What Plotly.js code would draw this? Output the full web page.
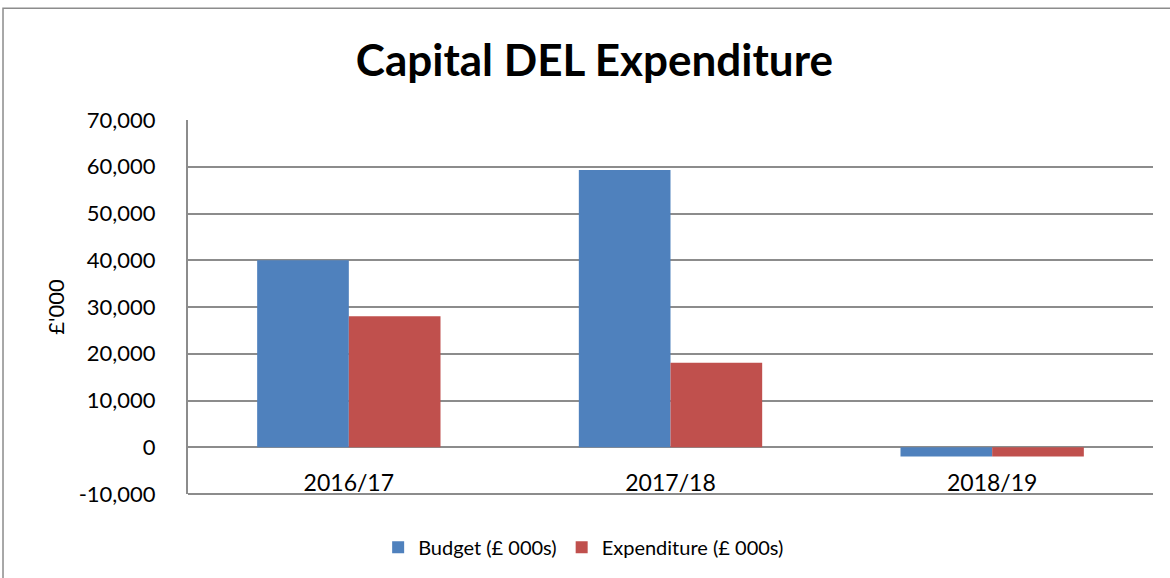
<!DOCTYPE html>
<html>
<head>
<meta charset="utf-8">
<script src="https://cdn.plot.ly/plotly-3.0.1.min.js"></script>
<style>html,body{margin:0;padding:0;background:#fff;}#chart{width:1170px;height:578px;}</style>
</head>
<body>
<div id="chart"></div>
<script>
const categories = ['2016/17', '2017/18', '2018/19'];
const budget = [40000, 59300, -2000];
const expenditure = [28000, 18100, -2000];
const seriesNames = ['Budget (£ 000s)', 'Expenditure (£ 000s)'];
const yTicks = [-10000, 0, 10000, 20000, 30000, 40000, 50000, 60000, 70000];
const yTickText = ['-10,000', '0', '10,000', '20,000', '30,000', '40,000', '50,000', '60,000', '70,000'];
const chartTitle = 'Capital DEL Expenditure';
const yTitle = "£'000";

const FONT = 'Lato, "Open Sans", sans-serif';
const yMin = yTicks[0], yMax = yTicks[yTicks.length - 1];
const data = [
  {type: 'bar', x: categories, y: budget, name: seriesNames[0], marker: {color: '#4F81BD'}},
  {type: 'bar', x: categories, y: expenditure, name: seriesNames[1], marker: {color: '#C0504D'}}
];
const layout = {
  width: 1170, height: 578,
  margin: {l: 188, r: 17, t: 120, b: 83},
  paper_bgcolor: '#fff', plot_bgcolor: '#fff',
  font: {family: FONT, color: '#000'},
  title: {text: chartTitle, font: {family: FONT, size: 44, weight: 'bold', color: '#000'}, x: 0.508, xanchor: 'center', y: 0.895, yanchor: 'middle'},
  barmode: 'group', bargap: 0.43, bargroupgap: 0,
  showlegend: true,
  legend: {orientation: 'h', x: 0.41, xanchor: 'center', y: -0.139, yanchor: 'middle', font: {family: FONT, size: 20}, itemwidth: 30},
  xaxis: {type: 'category', anchor: 'free', position: -yMin / (yMax - yMin), showline: false, showgrid: false, ticks: '', tickfont: {family: FONT, size: 23}, ticklabelstandoff: 20},
  yaxis: {range: [yMin, yMax], tickvals: yTicks, ticktext: yTickText, showgrid: true, gridcolor: '#8c8c8c', gridwidth: 2, zeroline: false, showline: true, linecolor: '#8c8c8c', linewidth: 2, ticks: '', tickfont: {family: FONT, size: 22}, ticklabelstandoff: 26,
    title: {text: yTitle, font: {family: FONT, size: 22}, standoff: 8}},
  shapes: [
    {type: 'rect', xref: 'paper', yref: 'paper', x0: -0.1917, x1: 1.2, y0: -0.4, y1: 1.2987, line: {color: '#8c8c8c', width: 1.5}, layer: 'below'},
    {type: 'line', xref: 'paper', yref: 'paper', x0: 0, x1: 1, y0: 0, y1: 0, line: {color: '#8c8c8c', width: 2}, layer: 'below'}
  ]
};
Plotly.newPlot('chart', data, layout, {displayModeBar: false, staticPlot: true});
</script>
</body>
</html>
